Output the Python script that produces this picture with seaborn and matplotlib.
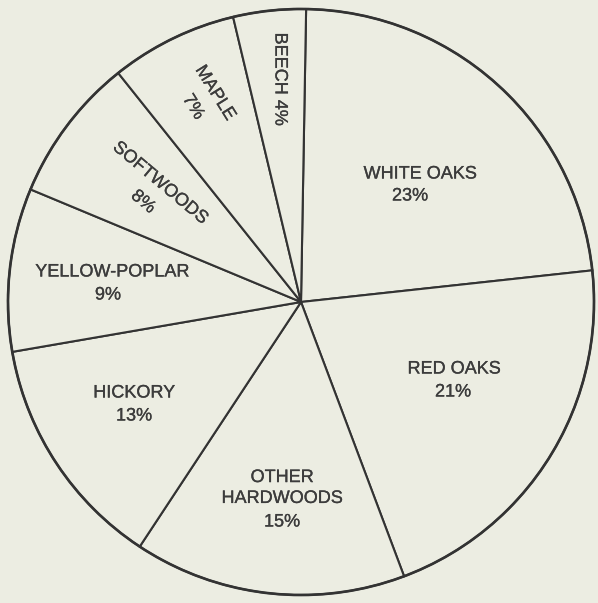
import seaborn as sns
import matplotlib.pyplot as plt
import matplotlib.patheffects as pe

# Data
species = ['WHITE OAKS', 'RED OAKS', 'OTHER\nHARDWOODS', 'HICKORY',
           'YELLOW-POPLAR', 'SOFTWOODS', 'MAPLE', 'BEECH']
shares = [23, 21, 15, 13, 9, 8, 7, 4]

# label placement (pixel coords of name, percent, rotation)
name_pos = [(420, 174), (454, 369), (282, 488), (134, 393),
            (112, 272), (160, 183), (215, 93), (280, 79)]
pct_pos = [(410, 196), (453, 392), (282, 522), (134, 416),
           (108, 295), (143, 202), (193, 107), None]
rotations = [0, 0, 0, 0, 0, -40, -58, -90]

bg = '#ecede2'
ink = '#333333'
text_ink = '#3c3c3c'

sns.set_theme(style='white')
plt.rcParams['font.family'] = ['Liberation Sans', 'DejaVu Sans']

W, H = 598, 603
cx, cy = 301, 302
fig = plt.figure(figsize=(W / 100, H / 100), dpi=100)
fig.patch.set_facecolor(bg)
ax = fig.add_axes([0, 0, 1, 1])
ax.set_facecolor(bg)

ax.pie(shares, startangle=89, counterclock=False, radius=293,
       center=(cx, H - cy), colors=[bg] * len(shares),
       wedgeprops=dict(edgecolor=ink, linewidth=1.5))
# slightly heavier outer rim
ax.add_patch(plt.Circle((cx, H - cy), 293, fill=False, ec=ink, lw=1.9))

ax.set_xlim(0, W)
ax.set_ylim(0, H)
ax.set_aspect('equal')
ax.axis('off')

fx = [pe.withStroke(linewidth=0.2, foreground=text_ink)]
for i, name in enumerate(species):
    x, y = name_pos[i]
    txt = name
    if species[i] == 'BEECH':
        txt = f'{name} {shares[i]}%'
    ax.text(x, H - y, txt, ha='center', va='center', fontsize=13,
            color=text_ink, rotation=rotations[i], linespacing=1.3,
            path_effects=fx)
    if pct_pos[i] is not None:
        px, py = pct_pos[i]
        ax.text(px, H - py, f'{shares[i]}%', ha='center', va='center',
                fontsize=13, color=text_ink, rotation=rotations[i],
                path_effects=fx)

fig.savefig('out.png', dpi=100, facecolor=bg)
